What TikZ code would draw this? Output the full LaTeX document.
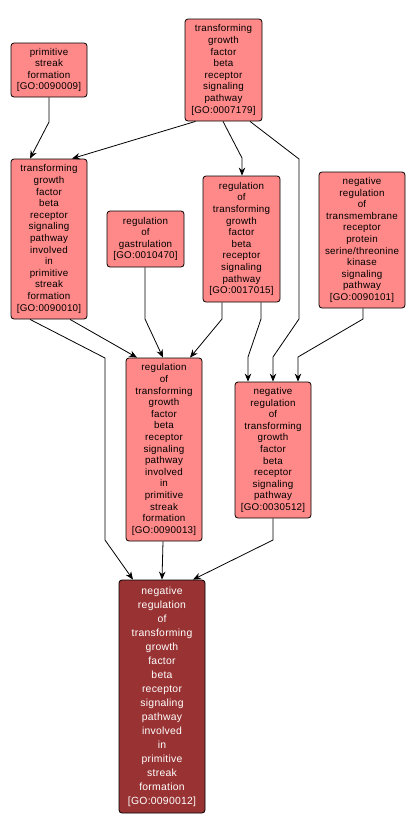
\documentclass[tikz,border=0pt]{standalone}
\usepackage{fontspec}
\setmainfont{Liberation Sans}[LetterSpace=2.5]
\usetikzlibrary{arrows.meta}
\definecolor{nodefill}{HTML}{FF8888}
\definecolor{targetfill}{HTML}{993333}
\begin{document}
\begin{tikzpicture}[x=1pt,y=-1pt,
  go/.style={draw=black, line width=0.8pt, rounded corners=3pt, fill=nodefill, align=center,
    font=\fontsize{9.8}{11.6}\selectfont, inner sep=0pt},
  target/.style={go, fill=targetfill, text=white, font=\fontsize{10.4}{14}\selectfont},
  edge/.style={draw=black, line width=0.8pt, -{Stealth[length=8pt,width=6.5pt]}}]
\useasboundingbox (0,0) rectangle (415,833);

\node[go, minimum width=76pt, minimum height=54pt] (n1) at (49,70)
  {primitive\\streak\\formation\\{[GO:0090009]}};
\node[go, minimum width=77pt, minimum height=102pt] (n2) at (223.5,70)
  {transforming\\growth\\factor\\beta\\receptor\\signaling\\pathway\\{[GO:0007179]}};
\node[go, minimum width=76pt, minimum height=160pt] (n3) at (49,239)
  {transforming\\growth\\factor\\beta\\receptor\\signaling\\pathway\\involved\\in\\primitive\\streak\\formation\\{[GO:0090010]}};
\node[go, minimum width=77pt, minimum height=56pt] (n4) at (145.5,239)
  {regulation\\of\\gastrulation\\{[GO:0010470]}};
\node[go, minimum width=77pt, minimum height=126pt] (n5) at (241.5,239)
  {regulation\\of\\transforming\\growth\\factor\\beta\\receptor\\signaling\\pathway\\{[GO:0017015]}};
\node[go, minimum width=86pt, minimum height=136pt] (n6) at (362,240)
  {negative\\regulation\\of\\transmembrane\\receptor\\protein\\serine/threonine\\kinase\\signaling\\pathway\\{[GO:0090101]}};
\node[go, minimum width=76pt, minimum height=183pt] (n7) at (164,449.5)
  {regulation\\of\\transforming\\growth\\factor\\beta\\receptor\\signaling\\pathway\\involved\\in\\primitive\\streak\\formation\\{[GO:0090013]}};
\node[go, minimum width=76pt, minimum height=136pt] (n8) at (273,450)
  {negative\\regulation\\of\\transforming\\growth\\factor\\beta\\receptor\\signaling\\pathway\\{[GO:0030512]}};
\node[target, minimum width=86pt, minimum height=233pt] (n9) at (162,696.5)
  {negative\\regulation\\of\\transforming\\growth\\factor\\beta\\receptor\\signaling\\pathway\\involved\\in\\primitive\\streak\\formation\\{[GO:0090012]}};

\draw[edge] (n1.south) -- (49,122) -- ([xshift=-19pt]n3.north);
\draw[edge] ([xshift=-28pt]n2.south) -- ([xshift=23pt]n3.north);
\draw[edge] ([xshift=-0.5pt]n2.south) -- (242,158) -- ([xshift=0.5pt]n5.north);
\draw[edge] ([xshift=26.5pt]n2.south) -- (299,159) -- (299,319) -- (273,357) -- (n8.north);
\draw[edge] ([xshift=21pt]n3.south) -- ([xshift=-27pt]n7.north);
\draw[edge] ([xshift=-19pt]n3.south) -- (105,358) -- (105,540) -- ([xshift=-29pt]n9.north);
\draw[edge] ([xshift=-0.5pt]n4.south) -- (145,319) -- ([xshift=-1pt]n7.north);
\draw[edge] ([xshift=-19.5pt]n5.south) -- (222,319) -- ([xshift=26pt]n7.north);
\draw[edge] ([xshift=19.5pt]n5.south) -- (261,319) -- (248,357) -- ([xshift=-25pt]n8.north);
\draw[edge] ([xshift=1pt]n6.south) -- (363,319) -- (298,357) -- ([xshift=25pt]n8.north);
\draw[edge] ([xshift=-1pt]n7.south) -- (n9.north);
\draw[edge] (n8.south) -- (273,540) -- ([xshift=31pt]n9.north);
\end{tikzpicture}
\end{document}
